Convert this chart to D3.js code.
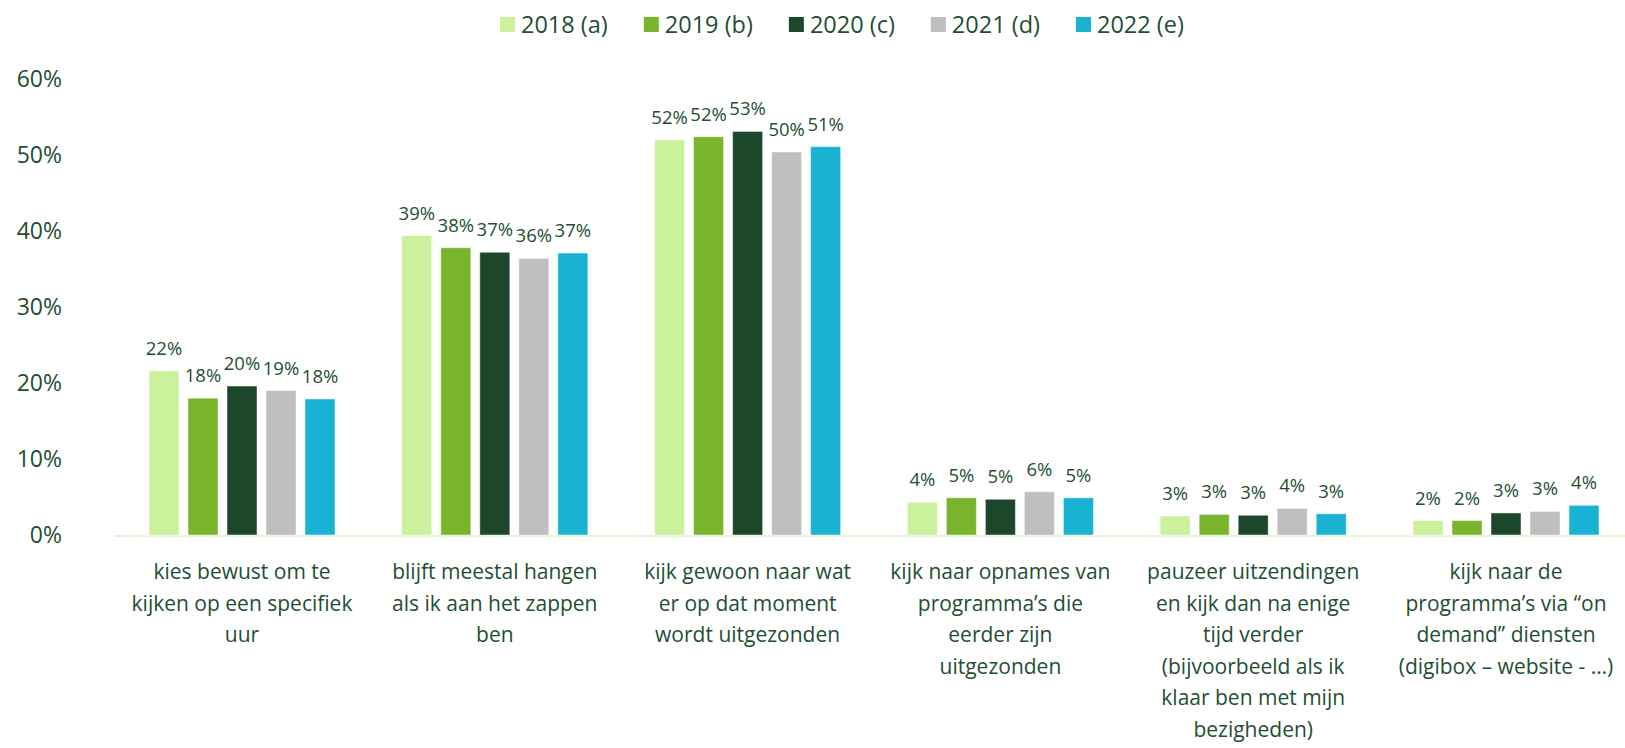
<!DOCTYPE html>
<html lang="nl">
  <head>
    <meta charset="utf-8">
    <style>
      body { margin: 0; background: #fff; }
      text { font-family: "Open Sans", sans-serif; fill: #1e4f31; }
      .bar { stroke: rgba(255,255,255,0.45); stroke-width: 1; }
    </style>
  </head>
  <body>
    <script src="https://cdn.jsdelivr.net/npm/d3@7"></script>
    <script>
      // categories (line breaks as in the original chart)
      var categories = [
        "kies bewust om te\nkijken op een specifiek\nuur",
        "blijft meestal hangen\nals ik aan het zappen\nben",
        "kijk gewoon naar wat\ner op dat moment\nwordt uitgezonden",
        "kijk naar opnames van\nprogramma’s die\neerder zijn\nuitgezonden",
        "pauzeer uitzendingen\nen kijk dan na enige\ntijd verder\n(bijvoorbeeld als ik\nklaar ben met mijn\nbezigheden)",
        "kijk naar de\nprogramma’s via “on\ndemand” diensten\n(digibox – website - …)"
      ];

      var seriesNames = ["2018 (a)", "2019 (b)", "2020 (c)", "2021 (d)", "2022 (e)"];
      var seriesColors = ["#ccf19d", "#78b52d", "#1c472b", "#bfbfbf", "#19b2d2"];

      // values in %, one array per year
      var v2018 = [21.6, 39.4, 52.0, 4.3, 2.5, 1.9];
      var v2019 = [18.0, 37.8, 52.4, 4.9, 2.7, 1.9];
      var v2020 = [19.6, 37.2, 53.1, 4.7, 2.6, 2.9];
      var v2021 = [19.0, 36.4, 50.4, 5.7, 3.5, 3.1];
      var v2022 = [17.9, 37.1, 51.1, 4.9, 2.8, 3.9];

      var yTicks = [0, 10, 20, 30, 40, 50, 60];

      var allSeries = [v2018, v2019, v2020, v2021, v2022];

      var width = 1625, height = 748;

      var svg = d3.select("body").append("svg")
        .attr("width", width)
        .attr("height", height);

      // scales
      var x0 = d3.scaleBand()
        .domain(d3.range(categories.length))
        .range([115.6, 1632.4])
        .paddingInner(0.264)
        .paddingOuter(0.132);

      var x1 = d3.scaleBand()
        .domain(d3.range(seriesNames.length))
        .range([0, x0.bandwidth()])
        .paddingInner(0.2308);

      var y = d3.scaleLinear().domain([0, 60]).range([535, 79]);

      // y axis
      var yAxis = svg.append("g")
        .attr("transform", "translate(62,0)")
        .call(d3.axisLeft(y).tickValues(yTicks).tickSize(0).tickPadding(0)
          .tickFormat(function(d) { return d + "%"; }));
      yAxis.select(".domain").remove();
      yAxis.selectAll("text")
        .style("font-family", "'Open Sans', sans-serif")
        .style("font-size", "23px")
        .attr("fill", "#1e4f31");

      // baseline
      svg.append("line")
        .attr("x1", 115).attr("x2", width)
        .attr("y1", y(0) + 1).attr("y2", y(0) + 1)
        .attr("stroke", "#e6f3d8")
        .attr("stroke-width", 2);

      // bars
      var groups = svg.selectAll(".grp")
        .data(categories)
        .enter().append("g")
        .attr("class", "grp")
        .attr("transform", function(d, i) { return "translate(" + x0(i) + ",0)"; });

      groups.each(function(c, ci) {
        var g = d3.select(this);
        var vals = allSeries.map(function(s) { return s[ci]; });

        g.selectAll("rect")
          .data(vals)
          .enter().append("rect")
          .attr("class", "bar")
          .attr("x", function(d, si) { return x1(si); })
          .attr("width", x1.bandwidth())
          .attr("y", function(d) { return y(d); })
          .attr("height", function(d) { return y(0) - y(d); })
          .attr("fill", function(d, si) { return seriesColors[si]; });

        g.selectAll("text.lbl")
          .data(vals)
          .enter().append("text")
          .attr("class", "lbl")
          .attr("x", function(d, si) { return x1(si) + x1.bandwidth() / 2; })
          .attr("y", function(d) { return y(d) - 16; })
          .attr("text-anchor", "middle")
          .style("font-size", "18.5px")
          .text(function(d) { return Math.round(d) + "%"; });
      });

      // category labels
      categories.forEach(function(c, i) {
        var t = svg.append("text")
          .attr("text-anchor", "middle")
          .style("font-size", "21px")
          .attr("transform", "translate(" + (x0(i) + x0.bandwidth() / 2) + ",579)");
        c.split("\n").forEach(function(line, li) {
          t.append("tspan").attr("x", 0).attr("y", li * 31.5).text(line);
        });
      });

      // legend
      var legend = svg.append("g").attr("transform", "translate(500,17)");
      var lx = 0;
      seriesNames.forEach(function(name, i) {
        var item = legend.append("g").attr("transform", "translate(" + lx + ",0)");
        item.append("rect")
          .attr("width", 15).attr("height", 15)
          .attr("fill", seriesColors[i]);
        var txt = item.append("text")
          .attr("x", 21).attr("y", 7.5).attr("dy", "0.36em")
          .style("font-size", "23.5px")
          .text(name);
        lx += 21 + txt.node().getComputedTextLength() + 36;
      });
    </script>
  </body>
</html>
